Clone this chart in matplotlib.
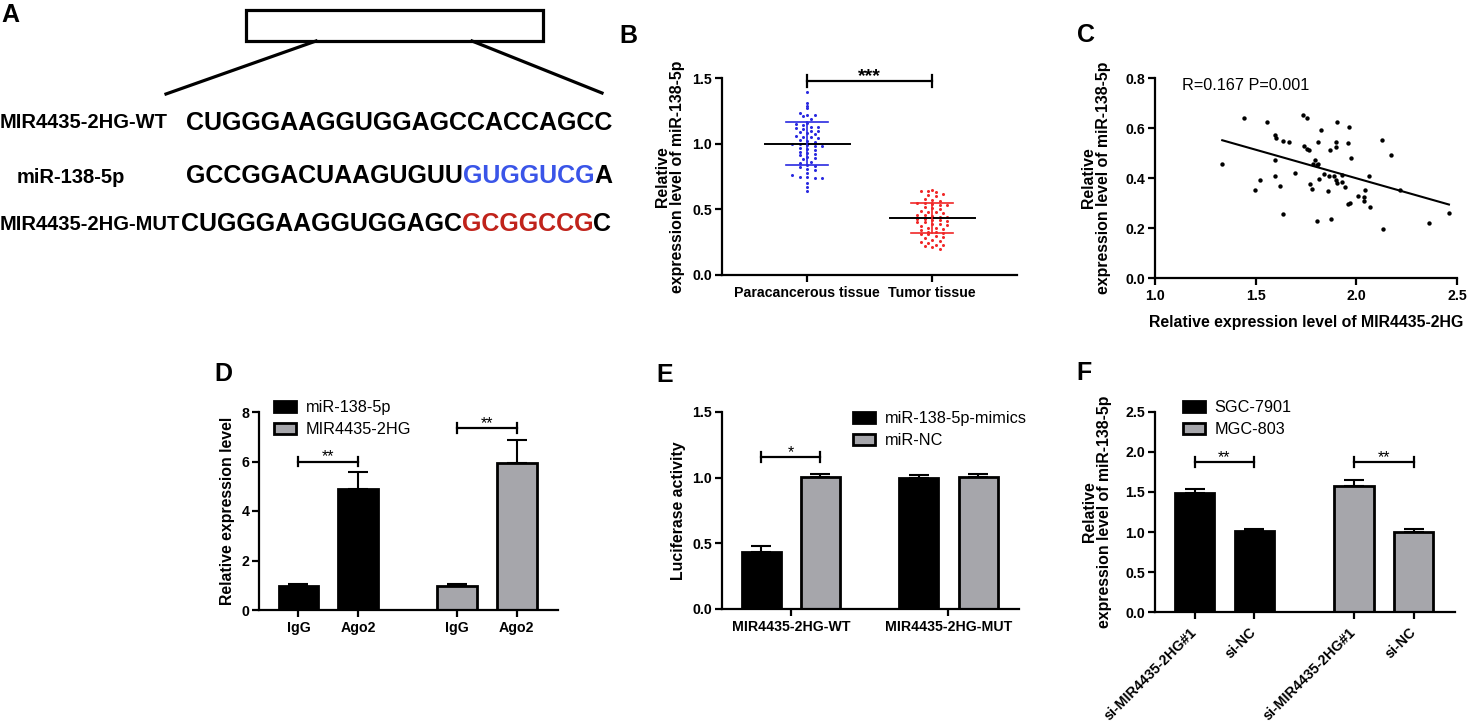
import numpy as np
import matplotlib.pyplot as plt

plt.rcParams['font.family'] = ['Liberation Sans', 'DejaVu Sans']
plt.rcParams['font.weight'] = 'bold'
plt.rcParams['axes.labelweight'] = 'bold'

# ---- data ----
seq_wt = ['CUGGGAAGGUGGAGCCACCAGCC']
seq_mir = ['GCCGGACUAAGUGUU', 'GUGGUCG', 'A']
seq_mut = ['CUGGGAAGGUGGAGC', 'GCGGCCG', 'C']
row_names = ['MIR4435-2HG-WT', 'miR-138-5p', 'MIR4435-2HG-MUT']

b_groups = ['Paracancerous tissue', 'Tumor tissue']
b_para = [1.39, 1.31, 1.29, 1.27, 1.23, 1.22, 1.22, 1.21, 1.19, 1.16, 1.15, 1.14, 1.13, 1.13,
          1.12, 1.11, 1.10, 1.10, 1.09, 1.08, 1.07, 1.06, 1.05, 1.05, 1.04, 1.03, 1.02, 1.01,
          1.00, 1.00, 0.99, 0.98, 0.98, 0.97, 0.96, 0.95, 0.94, 0.93, 0.92, 0.91, 0.90, 0.89,
          0.88, 0.86, 0.85, 0.84, 0.83, 0.82, 0.81, 0.80, 0.78, 0.76, 0.75, 0.75, 0.74, 0.74,
          0.70, 0.67, 0.64]
b_tumor = [0.65, 0.64, 0.64, 0.63, 0.62, 0.61, 0.60, 0.58, 0.57, 0.56, 0.55, 0.55, 0.54, 0.53,
           0.53, 0.52, 0.51, 0.50, 0.49, 0.48, 0.48, 0.47, 0.46, 0.46, 0.45, 0.44, 0.44, 0.43,
           0.43, 0.42, 0.42, 0.41, 0.40, 0.40, 0.39, 0.39, 0.38, 0.37, 0.36, 0.36, 0.35, 0.34,
           0.33, 0.33, 0.32, 0.31, 0.31, 0.30, 0.29, 0.28, 0.27, 0.26, 0.25, 0.24, 0.23, 0.23,
           0.22, 0.21, 0.20]
b_mean = [1.0, 0.434]
b_sd = [0.165, 0.117]

c_x = [1.334, 1.440, 1.556, 1.495, 1.523, 1.596, 1.603, 1.598, 1.594, 1.621, 1.634, 1.636,
       1.667, 1.695, 1.733, 1.757, 1.738, 1.757, 1.767, 1.770, 1.781, 1.786, 1.796, 1.805,
       1.808, 1.811, 1.805, 1.823, 1.816, 1.838, 1.859, 1.864, 1.868, 1.876, 1.887, 1.897,
       1.899, 1.902, 1.899, 1.902, 1.929, 1.930, 1.945, 1.959, 1.964, 1.974, 1.957, 1.970,
       2.007, 2.036, 2.038, 2.043, 2.063, 2.070, 2.126, 2.131, 2.172, 2.217, 2.359, 2.460]
c_y = [0.455, 0.640, 0.624, 0.353, 0.393, 0.572, 0.560, 0.473, 0.407, 0.369, 0.549, 0.256,
       0.545, 0.420, 0.653, 0.640, 0.529, 0.516, 0.512, 0.376, 0.355, 0.455, 0.473, 0.452,
       0.456, 0.543, 0.229, 0.591, 0.395, 0.416, 0.349, 0.409, 0.511, 0.235, 0.408, 0.523,
       0.545, 0.625, 0.393, 0.380, 0.411, 0.383, 0.364, 0.539, 0.603, 0.479, 0.296, 0.300,
       0.327, 0.325, 0.309, 0.351, 0.408, 0.285, 0.553, 0.197, 0.493, 0.353, 0.221, 0.259]

d_ticks = ['IgG', 'Ago2', 'IgG', 'Ago2']
d_mir = [0.98, 4.87]
d_mir_err = [0.07, 0.70]
d_lnc = [0.98, 5.95]
d_lnc_err = [0.07, 0.93]

e_groups = ['MIR4435-2HG-WT', 'MIR4435-2HG-MUT']
e_mimics = [0.431, 1.0]
e_mimics_err = [0.05, 0.023]
e_nc = [1.005, 1.005]
e_nc_err = [0.02, 0.025]

f_ticks = ['si-MIR4435-2HG#1', 'si-NC', 'si-MIR4435-2HG#1', 'si-NC']
f_sgc = [1.484, 1.015]
f_sgc_err = [0.054, 0.017]
f_mgc = [1.575, 1.0]
f_mgc_err = [0.075, 0.036]

W, H = 1468, 726
fig = plt.figure(figsize=(W / 100, H / 100), dpi=100)
GRAY = '#a6a6ab'
BLUE = '#3a55e8'
RED = '#c0231b'


def px_axes(left, top, right, bottom):
    return fig.add_axes([left / W, 1 - bottom / H, (right - left) / W, (bottom - top) / H])


def style(ax):
    for s in ['top', 'right']:
        ax.spines[s].set_visible(False)
    for s in ['left', 'bottom']:
        ax.spines[s].set_linewidth(1.6)
    ax.tick_params(width=1.6, length=5, labelsize=10.2, pad=2)
    ax.tick_params(axis='x', pad=3)


def bracket(ax, x1, x2, y, cap, label, fs=11.5, weight='normal', off=-2):
    ax.plot([x1, x2], [y, y], color='k', lw=1.6, clip_on=False)
    for x in (x1, x2):
        ax.plot([x, x], [y - cap, y + cap], color='k', lw=1.6, clip_on=False)
    ax.annotate(label, xy=((x1 + x2) / 2, y), xytext=(0, off), textcoords='offset points',
                ha='center', va='bottom', fontsize=fs, fontweight=weight, annotation_clip=False)


def legend(ax, x, y):
    ax.legend(loc='upper left', bbox_to_anchor=(x / W, 1 - y / H), bbox_transform=fig.transFigure,
              frameon=False, prop={'size': 11.7, 'weight': 'normal'}, handlelength=1.35,
              handleheight=0.65, handletextpad=0.6, labelspacing=0.45, borderpad=0, borderaxespad=0)


# ---- overlay for panel A and letters ----
ax0 = fig.add_axes([0, 0, 1, 1])
ax0.set_xlim(0, W)
ax0.set_ylim(H, 0)
ax0.axis('off')

ax0.add_patch(plt.Rectangle((246, 10), 297, 31, fill=False, lw=2.3, ec='k'))
ax0.plot([316, 166], [41, 94], color='k', lw=2.3)
ax0.plot([472, 602], [41, 93], color='k', lw=2.3)


def seq_row(x, y, parts, colors):
    t = ax0.text(x, y, parts[0], color=colors[0], fontsize=18, va='baseline')
    for p, c in zip(parts[1:], colors[1:]):
        t = ax0.annotate(p, xy=(1, 0), xycoords=t, va='bottom', ha='left', color=c, fontsize=18)


ax0.text(0, 128.5, row_names[0], fontsize=14.5, va='baseline')
ax0.text(17, 183, row_names[1], fontsize=14.5, va='baseline')
ax0.text(0, 230, row_names[2], fontsize=14.5, va='baseline')
seq_row(186, 130.5, seq_wt, ['k'])
seq_row(186, 183, seq_mir, ['k', BLUE, 'k'])
seq_row(181, 231, seq_mut, ['k', RED, 'k'])

for letter, (lx, ly) in zip('ABCDEF', [(10, 15), (628, 36), (1086, 35), (223, 374), (665, 375), (1084, 373)]):
    ax0.text(lx, ly, letter, fontsize=18, ha='center', va='center')

# ---- B ----
axb = px_axes(722, 78, 1017, 275)
style(axb)


def swarm(vals, step=0.03, dx=0.06):
    vals = np.asarray(vals)
    xs = np.zeros(len(vals))
    bins = np.round(vals / step).astype(int)
    for b in np.unique(bins):
        idx = np.where(bins == b)[0]
        k = len(idx)
        xs[idx] = (np.arange(k) - (k - 1) / 2) * dx
    return xs


for i, (vals, col) in enumerate([(b_para, '#2a2ae0'), (b_tumor, '#f02828')]):
    axb.plot(i + swarm(vals), vals, 'o', ms=2.2, color=col, mec='none', zorder=3)
    m, s = b_mean[i], b_sd[i]
    axb.plot([i - 0.34, i + 0.34], [m, m], color='k', lw=1.4, zorder=4)
    for yy in (m - s, m + s):
        axb.plot([i - 0.165, i + 0.165], [yy, yy], color=col, lw=1.2, zorder=4)
    axb.plot([i, i], [m - s, m + s], color=col, lw=1.2, zorder=4)
axb.set_xlim(-0.68, 1.68)
axb.set_ylim(0, 1.5)
axb.set_yticks([0, 0.5, 1.0, 1.5])
axb.set_yticklabels(['0.0', '0.5', '1.0', '1.5'])
axb.set_xticks([0, 1])
axb.set_xticklabels(b_groups)
axb.set_ylabel('Relative\nexpression level of miR-138-5p', fontsize=11.4, linespacing=1.0)
axb.yaxis.label.set_va('center')
axb.yaxis.set_label_coords(-0.175, 0.5)
bracket(axb, 0, 1, 1.48, 0.045, '***', fs=14, weight='bold', off=-3)

# ---- C ----
axc = px_axes(1155, 78, 1457, 278)
style(axc)
axc.scatter(c_x, c_y, s=10, color='k', zorder=3, linewidths=0)
slope, icpt = np.polyfit(c_x, c_y, 1)
xx = np.array([min(c_x), max(c_x)])
axc.plot(xx, slope * xx + icpt, color='k', lw=1.5)
axc.set_xlim(1.0, 2.5)
axc.set_ylim(0, 0.8)
axc.set_xticks([1.0, 1.5, 2.0, 2.5])
axc.set_xticklabels(['1.0', '1.5', '2.0', '2.5'])
axc.set_yticks([0, 0.2, 0.4, 0.6, 0.8])
axc.set_yticklabels(['0.0', '0.2', '0.4', '0.6', '0.8'])
axc.text(1.136, 0.768, 'R=0.167 P=0.001', fontsize=11.7, fontweight='normal', va='center')
axc.set_ylabel('Relative\nexpression level of miR-138-5p', fontsize=11.4, linespacing=1.0)
axc.yaxis.label.set_va('center')
axc.yaxis.set_label_coords(-0.197, 0.5)
axc.set_xlabel('Relative expression level of MIR4435-2HG', fontsize=11.4)
axc.xaxis.label.set_va('center')
axc.xaxis.set_label_coords(0.5, -0.225)

# ---- bar panels ----
pos = np.array([0, 1, 2.66, 3.66])
bw = 0.66


def bars(ax, a, a_err, b, b_err, la, lb, grouped):
    if grouped:
        xa, xb = pos[[0, 2]], pos[[1, 3]]
    else:
        xa, xb = pos[:2], pos[2:]
    ax.bar(xa, a, bw, color='k', edgecolor='k', lw=2, label=la, zorder=2)
    ax.bar(xb, b, bw, color=GRAY, edgecolor='k', lw=2, label=lb, zorder=2)
    for x, v, e in [(xa, a, a_err), (xb, b, b_err)]:
        ax.errorbar(x, v, yerr=[np.zeros(2), e], fmt='none', ecolor='k', elinewidth=1.5,
                    capsize=7, capthick=1.5, zorder=1)
    ax.set_xlim(-0.66, 4.35)


# D
axd = px_axes(259, 412, 558, 610)
style(axd)
bars(axd, d_mir, d_mir_err, d_lnc, d_lnc_err, 'miR-138-5p', 'MIR4435-2HG', False)
axd.set_ylim(0, 8)
axd.set_yticks([0, 2, 4, 6, 8])
axd.set_xticks(pos)
axd.set_xticklabels(d_ticks)
axd.set_ylabel('Relative expression level', fontsize=11.4)
axd.yaxis.label.set_va('center')
axd.yaxis.set_label_coords(-0.104, 0.5)
bracket(axd, 0, 1, 6.0, 0.2, '**')
bracket(axd, 2.66, 3.66, 7.35, 0.2, '**')
legend(axd, 274, 400)

# E
axe = px_axes(722, 412, 1019, 609)
style(axe)
bars(axe, e_mimics, e_mimics_err, e_nc, e_nc_err, 'miR-138-5p-mimics', 'miR-NC', True)
axe.set_ylim(0, 1.5)
axe.set_yticks([0, 0.5, 1.0, 1.5])
axe.set_yticklabels(['0.0', '0.5', '1.0', '1.5'])
axe.set_xticks([0.5, 3.16])
axe.set_xticklabels(e_groups)
axe.set_ylabel('Luciferase activity', fontsize=11.4)
axe.yaxis.label.set_va('center')
axe.yaxis.set_label_coords(-0.148, 0.5)
bracket(axe, 0, 1, 1.157, 0.04, '*')
legend(axe, 853, 411)

# F
axf = px_axes(1155, 412, 1455, 612)
style(axf)
bars(axf, f_sgc, f_sgc_err, f_mgc, f_mgc_err, 'SGC-7901', 'MGC-803', False)
axf.set_ylim(0, 2.5)
axf.set_yticks([0, 0.5, 1.0, 1.5, 2.0, 2.5])
axf.set_yticklabels(['0.0', '0.5', '1.0', '1.5', '2.0', '2.5'])
axf.set_xticks(pos)
axf.set_xticklabels(f_ticks, rotation=45, ha='right', va='center', rotation_mode='anchor')
axf.tick_params(axis='x', pad=8)
axf.set_ylabel('Relative\nexpression level of miR-138-5p', fontsize=11.4, linespacing=1.0)
axf.yaxis.label.set_va('center')
axf.yaxis.set_label_coords(-0.192, 0.5)
bracket(axf, 0, 1, 1.87, 0.063, '**')
bracket(axf, 2.66, 3.66, 1.87, 0.063, '**')
legend(axf, 1183, 400)

fig.savefig('out.png', dpi=100)
